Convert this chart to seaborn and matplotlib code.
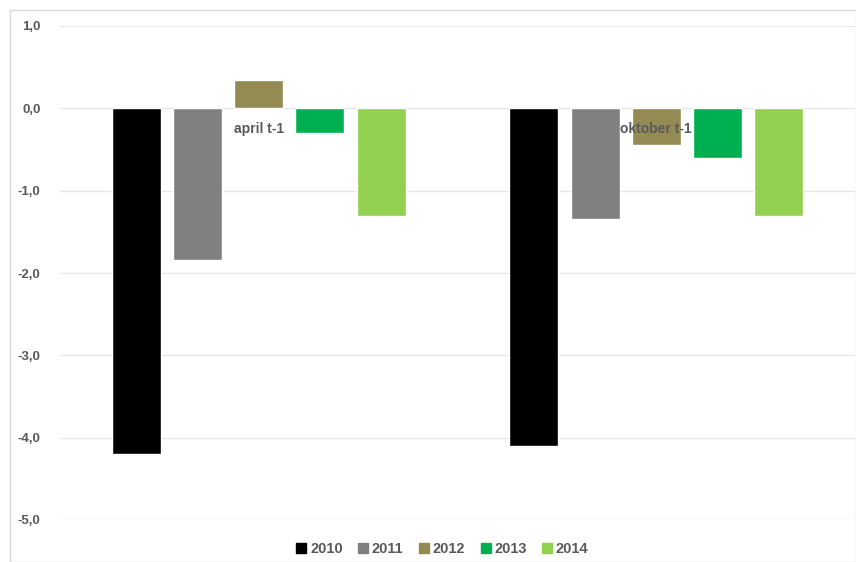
import matplotlib
matplotlib.use("Agg")
import matplotlib.pyplot as plt
import seaborn as sns
import pandas as pd
from matplotlib.patches import Rectangle
from matplotlib.lines import Line2D

categories = ["april t-1", "oktober t-1"]
years = ["2010", "2011", "2012", "2013", "2014"]
april_values = [-4.2, -1.84, 0.34, -0.30, -1.31]
oktober_values = [-4.1, -1.34, -0.45, -0.60, -1.31]
colors = ["#000000", "#808080", "#948a54", "#00b050", "#92d050"]
yticks = [1.0, 0.0, -1.0, -2.0, -3.0, -4.0, -5.0]

rows = []
for cat, vals in zip(categories, [april_values, oktober_values]):
    for yr, v in zip(years, vals):
        rows.append({"cat": cat, "year": yr, "value": v})
df = pd.DataFrame(rows)

sns.set_theme(style="white")
plt.rcParams['font.family'] = ['Liberation Sans', 'DejaVu Sans']

fig = plt.figure(figsize=(8.56, 5.62), dpi=100)
ax = fig.add_axes([60/856, 1-520/562, 795/856, (520-26)/562])

sns.barplot(data=df, x="cat", y="value", hue="year", hue_order=years,
            palette=colors, order=categories, width=0.77, gap=0.2,
            saturation=1, ax=ax, legend=False, errorbar=None)

ax.set_ylim(-5.0, 1.0)
ax.set_xlim(-0.5, 1.5)
ax.set_yticks(yticks)
ax.set_yticklabels([f"{t:.1f}".replace(".", ",") for t in yticks],
                   color="#595959", fontsize=9.5, fontweight="bold")
ax.tick_params(axis="y", length=0, pad=14)
ax.set_xticks([])
ax.set_xlabel("")
ax.set_ylabel("")
for s in ax.spines.values():
    s.set_visible(False)
ax.grid(axis="y", color="#e6e6e6", linewidth=1)
ax.set_axisbelow(True)

for i, cat in enumerate(categories):
    ax.annotate(cat, xy=(i, 0), xytext=(0, -10), textcoords="offset points",
                ha="center", va="top", fontsize=10, fontweight="bold",
                color="#595959", zorder=5)

handles = [Line2D([0], [0], marker="s", linestyle="none", markersize=7,
                  markerfacecolor=c, markeredgecolor=c) for c in colors]
fig.legend(handles, years, loc="center", bbox_to_anchor=(442/856, 1-549/562),
           ncol=5, frameon=False, handletextpad=0.2, handlelength=0.8,
           columnspacing=1.0, labelcolor="#595959",
           prop={"weight": "bold", "size": 10.5})

fig.patches.append(Rectangle((10/856, 0), 846/856, 1-10/562,
                             transform=fig.transFigure, fill=False,
                             edgecolor="#d9d9d9", linewidth=1))

fig.savefig("out.png", dpi=100)
